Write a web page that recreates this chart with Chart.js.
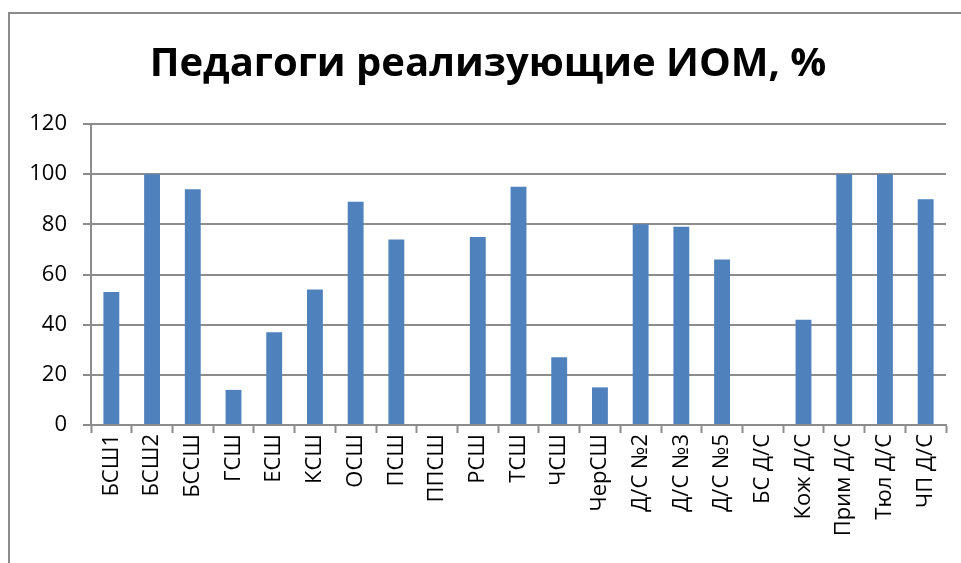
<!DOCTYPE html>
<html>
<head>
<meta charset="utf-8">
<script src="https://cdn.jsdelivr.net/npm/chart.js@4/dist/chart.umd.min.js"></script>
<style>
    body { margin: 0; background: #ffffff; overflow: hidden; }
    #wrap { position: relative; width: 961px; height: 563px; }
    #frame {
        position: absolute; left: 8px; top: 12px;
        width: 1000px; height: 600px;
        border: 2px solid #8c8c8c;
    }
    #chart { position: absolute; left: 0; top: 0; }
</style>
</head>
<body>
<div id="wrap">
    <div id="frame"></div>
    <canvas id="chart" width="961" height="563"></canvas>
</div>
<script>
// Chart data
const chartTitle = 'Педагоги реализующие ИОМ, %';
const schools = [
    'БСШ1', 'БСШ2', 'БССШ', 'ГСШ', 'ЕСШ', 'КСШ', 'ОСШ', 'ПСШ', 'ППСШ', 'РСШ',
    'ТСШ', 'ЧСШ', 'ЧерСШ', 'Д/С №2', 'Д/С №3', 'Д/С №5', 'БС Д/С', 'Кож Д/С',
    'Прим Д/С', 'Тюл Д/С', 'ЧП Д/С'
];
const percents = [53, 100, 94, 14, 37, 54, 89, 74, 0, 75, 95, 27, 15, 80, 79, 66, 0, 42, 100, 100, 90];
const yTicks = [0, 20, 40, 60, 80, 100, 120];

const gridColor = '#8c8c8c';
const labelFont = { family: 'Open Sans', size: 22 };

const ctx = document.getElementById('chart').getContext('2d');
const chart = new Chart(ctx, {
    type: 'bar',
    data: {
        labels: schools,
        datasets: [{
            label: chartTitle,
            data: percents,
            backgroundColor: '#4f81bd',
            borderWidth: 0,
            barPercentage: 0.39,
            categoryPercentage: 1
        }]
    },
    options: {
        responsive: false,
        animation: false,
        layout: {
            // left/right padding also centres the title like the original
            padding: { left: 30, right: 15, top: 0, bottom: 0 }
        },
        plugins: {
            legend: { display: false },
            tooltip: { enabled: false },
            title: {
                display: true,
                text: chartTitle,
                color: '#000000',
                font: { family: 'Open Sans', size: 40, weight: 'bold' },
                padding: { top: 41, bottom: 35 }
            }
        },
        scales: {
            x: {
                grid: {
                    display: true,
                    drawOnChartArea: false,
                    drawTicks: true,
                    tickLength: 8,
                    tickColor: gridColor,
                    tickWidth: 2,
                    offset: true
                },
                border: { color: gridColor, width: 2 },
                ticks: {
                    color: '#000000',
                    font: labelFont,
                    maxRotation: 90,
                    minRotation: 90,
                    autoSkip: false,
                    padding: 1
                },
                afterFit: function (axis) { axis.height = 138; }
            },
            y: {
                min: 0,
                max: 120,
                afterBuildTicks: function (axis) {
                    axis.ticks = yTicks.map(v => ({ value: v }));
                },
                grid: {
                    color: gridColor,
                    lineWidth: 2,
                    drawTicks: true,
                    tickLength: 8
                },
                border: { color: gridColor, width: 2 },
                ticks: {
                    color: '#000000',
                    font: labelFont,
                    padding: 16
                },
                afterFit: function (axis) { axis.width = 61; }
            }
        }
    }
});
</script>
</body>
</html>
